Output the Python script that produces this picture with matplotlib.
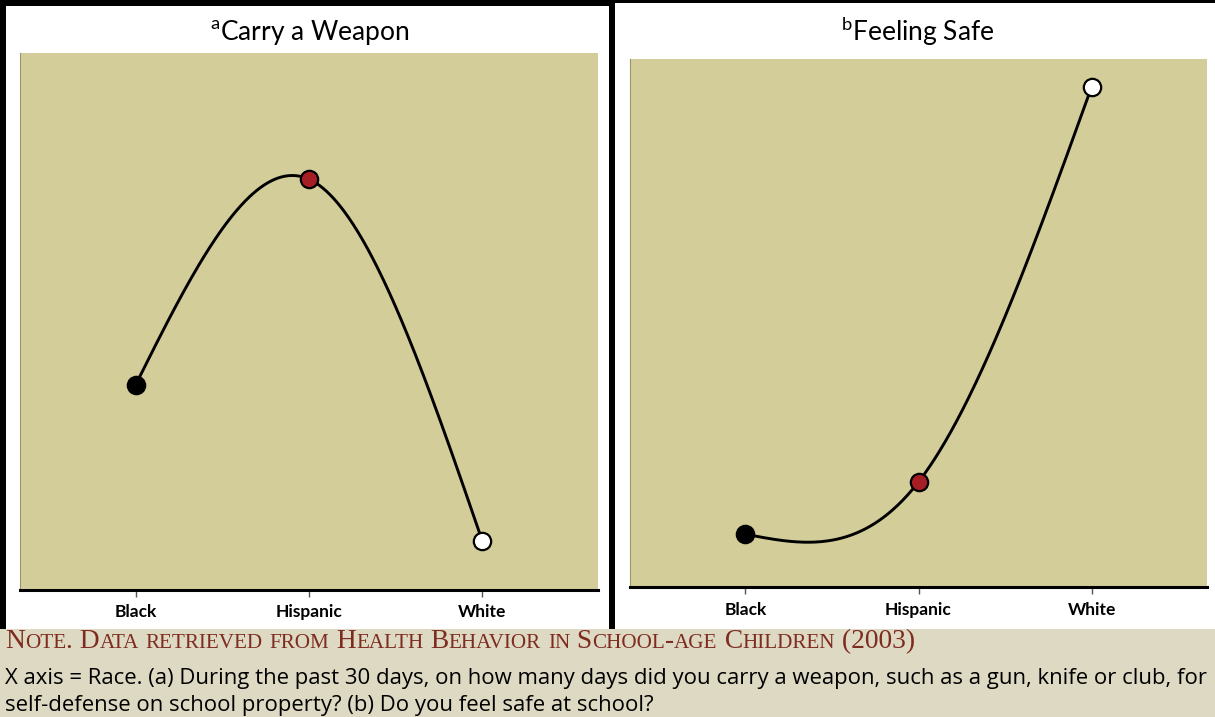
import numpy as np
import matplotlib
matplotlib.use('Agg')
import matplotlib.pyplot as plt
from matplotlib.patches import Rectangle

W, H = 1215, 717

races = ['Black', 'Hispanic', 'White']
weapon = [0.382, 0.765, 0.091]
safe = [0.100, 0.199, 0.947]
marker_colors = ['black', '#A51E24', 'white']

note_head = 'Note. Data retrieved from Health Behavior in School-age Children (2003)'
note_lines = ['X axis = Race. (a) During the past 30 days, on how many days did you carry a weapon, such as a gun, knife or club, for',
              'self-defense on school property? (b) Do you feel safe at school?']

BG = '#D3CE99'


def natural_spline(y, n=150):
    # natural cubic spline through 3 equally spaced points
    y0, y1, y2 = y
    M = [0.0, 1.5 * (y0 - 2 * y1 + y2), 0.0]
    xs, ys = [], []
    for i in range(2):
        t = np.linspace(0, 1, n)
        s = (M[i] * (1 - t) ** 3 / 6 + M[i + 1] * t ** 3 / 6
             + (y[i] - M[i] / 6) * (1 - t) + (y[i + 1] - M[i + 1] / 6) * t)
        xs.append(i + t)
        ys.append(s)
    return np.concatenate(xs), np.concatenate(ys)


def box(x0, y0, x1, y1):
    return [x0 / W, 1 - y1 / H, (x1 - x0) / W, (y1 - y0) / H]


fig = plt.figure(figsize=(W / 100, H / 100), dpi=100, facecolor='black')

for x0, y0, x1, y1, c in [(6, 6, 609, 629, 'white'), (615, 3, W, 629, 'white'),
                          (0, 629, W, H, '#DDD9C3')]:
    b = box(x0, y0, x1, y1)
    fig.patches.append(Rectangle((b[0], b[1]), b[2], b[3], transform=fig.transFigure,
                                 facecolor=c, edgecolor='none', zorder=-10))


def panel(rect, vals, title, tx, label_y):
    ax = fig.add_axes(box(*rect))
    ax.set_facecolor(BG)
    xs, ys = natural_spline(vals)
    ax.plot(xs, ys, color='black', lw=2.1, zorder=2, solid_capstyle='round')
    for i, v in enumerate(vals):
        ax.plot(i, v, 'o', ms=12.5, mfc=marker_colors[i], mec='black', mew=1.6, zorder=3,
                clip_on=False)
    ax.set_xlim(-0.667, 2.667)
    ax.set_ylim(0, 1)
    ax.set_yticks([])
    for s in ['top', 'right']:
        ax.spines[s].set_visible(False)
    ax.spines['left'].set_color('#9a9570')
    ax.spines['left'].set_linewidth(0.8)
    ax.spines['bottom'].set_linewidth(2.2)
    ax.set_xticks(range(3))
    ax.set_xticklabels([])
    ax.tick_params(axis='x', length=5, width=1, color='#555555')
    for i, r in enumerate(races):
        fig.text((rect[0] + (rect[2] - rect[0]) * (0.2 + 0.3 * i)) / W, 1 - label_y / H, r,
                 ha='center', va='center', fontsize=12.5, family='Lato', weight='bold')
    fig.text(tx / W, 1 - 41 / H, title, ha='center', va='baseline', fontsize=19, family='Lato')
    return ax


panel((20, 53, 598, 590), weapon, r'$^{\mathregular{a}}$Carry a Weapon', 310, 612)
panel((630, 59, 1207, 587), safe, r'$^{\mathregular{b}}$Feeling Safe', 918, 610)

# small-caps note heading
renderer = fig.canvas.get_renderer()
x = 5
big, small = 19.8, 15.2
runs = []
for ch in note_head:
    if ch.islower():
        size, txt = small, ch.upper()
    else:
        size, txt = big, ch
    if runs and runs[-1][0] == size:
        runs[-1][1] += txt
    else:
        runs.append([size, txt])
for size, txt in runs:
    t = fig.text(x / W, 1 - 648 / H, txt, ha='left', va='baseline', fontsize=size,
                 family='Liberation Serif', color='#7E2B20')
    bb = t.get_window_extent(renderer)
    x += bb.width

for i, line in enumerate(note_lines):
    fig.text(5 / W, 1 - (684 + 27 * i) / H, line, ha='left', va='baseline',
             fontsize=15.9, family='Open Sans', color='black')

fig.savefig('out.png', dpi=100, facecolor=fig.get_facecolor())
